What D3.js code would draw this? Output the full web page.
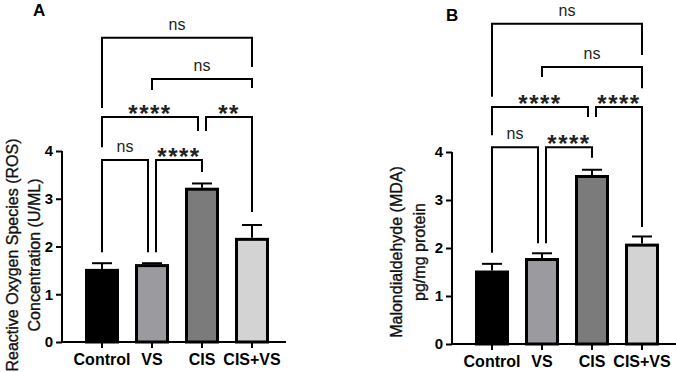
<!DOCTYPE html>
<html>
<head>
<meta charset="utf-8">
<script src="https://cdn.jsdelivr.net/npm/d3@7"></script>
<style>
  body { margin: 0; background: #fff; }
  svg { display: block; font-family: "Liberation Sans", Arial, sans-serif; }
</style>
</head>
<body>
<svg width="676" height="372"></svg>
<script>
// data
const groups = ['Control', 'VS', 'CIS', 'CIS+VS'];
const barColors = ['#000000', '#9b9b9f', '#7b7b7b', '#d3d3d3'];
const yTicks = [0, 1, 2, 3, 4];

const rosMean = [1.5, 1.6, 3.2, 2.15];
const rosSem = [0.15, 0.05, 0.12, 0.3];
const mdaMean = [1.5, 1.76, 3.49, 2.06];
const mdaSem = [0.17, 0.13, 0.14, 0.18];

// [from, to, label, level, left leg end, right leg end] in axis units
const rosSig = [
  [0, 3, 'ns', 6.37, 4.90, 5.76],
  [1, 3, 'ns', 5.51, 5.28, 5.32],
  [0, 2, '****', 4.71, 4.08, 4.42],
  [2, 3, '**', 4.71, 4.42, 2.72],
  [0, 1, 'ns', 3.81, 1.88, 1.88],
  [1, 2, '****', 3.81, 1.88, 3.56]
];
const mdaSig = [
  [0, 3, 'ns', 6.67, 5.15, 6.02],
  [1, 3, 'ns', 5.77, 5.56, 5.33],
  [0, 2, '****', 4.94, 4.35, 4.73],
  [2, 3, '****', 4.94, 4.73, 2.44],
  [0, 1, 'ns', 4.10, 1.90, 2.10],
  [1, 2, '****', 4.10, 2.10, 3.88]
];

const svg = d3.select('svg');
const FONT = '"Liberation Sans", Arial, sans-serif';

function panel(opt) {
  const g = svg.append('g');

  const x = d3.scaleBand()
    .domain(groups)
    .range([opt.left + 15, opt.left + 215])
    .paddingInner(0.38)
    .paddingOuter(0.19);

  const y = d3.scaleLinear()
    .domain([0, 4])
    .range([opt.bottom, opt.top]);

  // bars
  g.selectAll('rect.bar')
    .data(opt.mean)
    .join('rect')
      .attr('class', 'bar')
      .attr('x', (d, i) => x(groups[i]))
      .attr('y', d => y(d))
      .attr('width', x.bandwidth())
      .attr('height', d => y(0) - y(d))
      .attr('fill', (d, i) => barColors[i])
      .attr('stroke', '#000')
      .attr('stroke-width', 3);

  // error bars (upper only)
  const cx = i => x(groups[i]) + x.bandwidth() / 2;
  g.selectAll('line.err')
    .data(opt.mean)
    .join('line')
      .attr('x1', (d, i) => cx(i))
      .attr('x2', (d, i) => cx(i))
      .attr('y1', d => y(d) - 1.5)
      .attr('y2', (d, i) => y(d + opt.sem[i]))
      .attr('stroke', '#000')
      .attr('stroke-width', 2);
  g.selectAll('line.cap')
    .data(opt.mean)
    .join('line')
      .attr('x1', (d, i) => cx(i) - 10)
      .attr('x2', (d, i) => cx(i) + 10)
      .attr('y1', (d, i) => y(d + opt.sem[i]))
      .attr('y2', (d, i) => y(d + opt.sem[i]))
      .attr('stroke', '#000')
      .attr('stroke-width', 2);

  // y axis
  const yAxis = g.append('g')
    .attr('transform', `translate(${opt.left},0)`)
    .call(d3.axisLeft(y).tickValues(yTicks).tickFormat(d3.format('d')).tickSize(6).tickPadding(3));
  yAxis.select('.domain').attr('d', `M0,${opt.top}V${opt.bottom}`).attr('stroke-width', 2);
  yAxis.selectAll('.tick line').attr('stroke-width', 2);
  yAxis.selectAll('.tick text')
    .attr('font-size', 15).attr('font-weight', 'bold').attr('fill', '#000')
    .attr('font-family', FONT);

  // x axis
  const xAxis = g.append('g')
    .attr('transform', `translate(0,${opt.bottom})`)
    .call(d3.axisBottom(x).tickSize(6).tickPadding(6));
  xAxis.select('.domain').attr('d', `M${opt.left},0H${opt.left + 224}`).attr('stroke-width', 2);
  xAxis.selectAll('.tick line').attr('stroke-width', 2);
  xAxis.selectAll('.tick text')
    .attr('font-size', 16).attr('font-weight', 'bold').attr('fill', '#000')
    .attr('font-family', FONT);

  // y title, two lines
  opt.title.forEach((t, k) => {
    g.append('text')
      .attr('transform', `translate(${opt.titleX[k]},${opt.titleY}) rotate(-90)`)
      .attr('text-anchor', 'middle')
      .attr('dominant-baseline', 'central')
      .attr('font-size', 16)
      .attr('fill', '#111')
      .attr('stroke', '#111')
      .attr('stroke-width', 0.35)
      .text(t);
  });

  // panel letter
  g.append('text')
    .attr('x', opt.letterX)
    .attr('y', opt.letterY)
    .attr('font-size', 17)
    .attr('font-weight', 'bold')
    .text(opt.letter);

  // significance brackets
  const ends = [];
  opt.sig.forEach(s => { ends.push([s[0], s[3]]); ends.push([s[1], s[3]]); });
  const legX = (i, lvl, side) => {
    const shared = ends.filter(e => e[0] === i && e[1] === lvl).length > 1;
    return cx(i) + (shared ? (side === 'L' ? 4 : -4) : 0);
  };

  opt.sig.forEach(s => {
    const [a, b, lab, lvl, lEnd, rEnd] = s;
    const x1 = legX(a, lvl, 'L'), x2 = legX(b, lvl, 'R');
    g.append('path')
      .attr('d', `M${x1},${y(lEnd)}V${y(lvl)}H${x2}V${y(rEnd)}`)
      .attr('fill', 'none')
      .attr('stroke', '#000')
      .attr('stroke-width', 2);
    const stars = lab !== 'ns';
    g.append('text')
      .attr('x', (x1 + x2) / 2)
      .attr('y', y(lvl) + (stars ? 5 : -8))
      .attr('text-anchor', 'middle')
      .attr('font-size', stars ? 24 : 16)
      .attr('font-weight', stars ? 'bold' : 'normal')
      .attr('letter-spacing', stars ? 1.5 : 0)
      .attr('fill', '#222')
      .text(lab);
  });
}

panel({
  left: 62, top: 151, bottom: 342,
  mean: rosMean, sem: rosSem, sig: rosSig,
  title: ['Reactive Oxygen Species (ROS)', 'Concentration (U/ML)'],
  titleX: [12, 34], titleY: 255,
  letter: 'A', letterX: 33, letterY: 16
});

panel({
  left: 452, top: 152, bottom: 344,
  mean: mdaMean, sem: mdaSem, sig: mdaSig,
  title: ['Malondialdehyde (MDA)', 'pg/mg protein'],
  titleX: [396, 419], titleY: 252,
  letter: 'B', letterX: 446, letterY: 21
});
</script>
</body>
</html>
